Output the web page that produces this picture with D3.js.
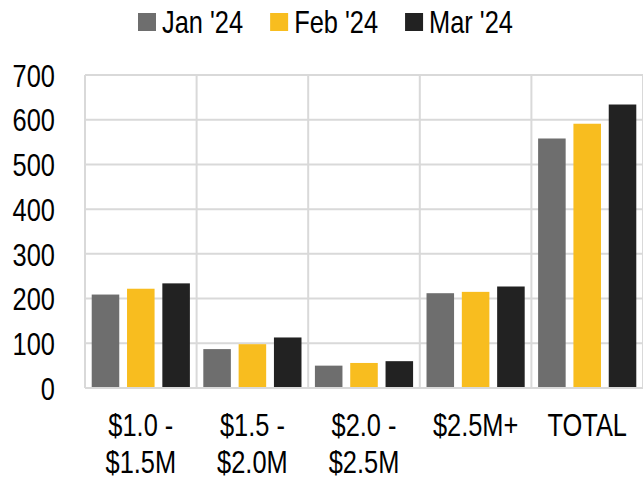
<!DOCTYPE html>
<html>
<head>
<meta charset="utf-8">
<script src="https://cdn.jsdelivr.net/npm/d3@7"></script>
<style>
  html, body { margin: 0; padding: 0; background: #fff; }
  svg { display: block; }
  text { font-family: "Liberation Sans", Arial, sans-serif; fill: #000; }
</style>
</head>
<body>
<svg id="chart" width="643" height="479"></svg>
<script>
const categories = [["$1.0 -", "$1.5M"], ["$1.5 -", "$2.0M"], ["$2.0 -", "$2.5M"], ["$2.5M+"], ["TOTAL"]];
const seriesNames = ["Jan '24", "Feb '24", "Mar '24"];
const seriesColors = ["#6e6e6e", "#f8bd1f", "#222222"];
const jan = [209, 87, 50, 212, 558];
const feb = [222, 98, 56, 215, 591];
const mar = [234, 113, 60, 227, 634];
const yTicks = [0, 100, 200, 300, 400, 500, 600, 700];

const seriesValues = [jan, feb, mar];
const catKeys = categories.map(c => c.join(" "));
const SX = 0.82; // narrow font emulation
const FS = 31;

const svg = d3.select("#chart");
const margin = { left: 85, right: 0, top: 75, bottom: 91 };
const W = 643, H = 479;
const plotH = H - margin.top - margin.bottom;

const x0 = d3.scaleBand().domain(catKeys).range([margin.left, W - margin.right]).paddingInner(0).paddingOuter(0);
const x1 = d3.scaleBand().domain(seriesNames).range([0, x0.bandwidth()]).paddingInner(0.22).paddingOuter(0.19);
const y = d3.scaleLinear().domain([0, 700]).range([margin.top + plotH, margin.top]);

const gridColor = "#d9d9d9";

function narrowText(parent, x, yy, str, anchor) {
  const g = parent.append("g").attr("transform", `translate(${x},${yy}) scale(${SX},1)`);
  return g.append("text").attr("x", 0).attr("y", 0).attr("font-size", FS)
    .attr("text-anchor", anchor || "start").text(str);
}

// horizontal gridlines
svg.append("g").selectAll("line").data(yTicks).join("line")
  .attr("x1", margin.left).attr("x2", W - margin.right)
  .attr("y1", d => y(d)).attr("y2", d => y(d))
  .attr("stroke", gridColor).attr("stroke-width", 2);

// vertical gridlines at category boundaries
const bounds = catKeys.map(k => x0(k)).concat([W - margin.right]);
svg.append("g").selectAll("line").data(bounds).join("line")
  .attr("x1", d => d).attr("x2", d => d)
  .attr("y1", y(700)).attr("y2", y(0))
  .attr("stroke", gridColor).attr("stroke-width", 2);

// y axis labels
const yAxis = d3.axisLeft(y).tickValues(yTicks).tickSize(0).tickPadding(0);
const yg = svg.append("g").attr("transform", `translate(55,0)`).call(yAxis);
yg.select(".domain").remove();
yg.attr("font-family", null).attr("font-size", null);
yg.selectAll("text").attr("font-size", FS).attr("fill", "#000")
  .attr("x", 0).attr("dy", "0.36em")
  .attr("transform", `scale(${SX},1)`);

// bars
const groups = svg.append("g").selectAll("g").data(catKeys).join("g")
  .attr("transform", d => `translate(${x0(d)},0)`);
groups.selectAll("rect").data((d, i) => seriesNames.map((s, j) => ({ s, j, v: seriesValues[j][i] })))
  .join("rect")
  .attr("x", d => x1(d.s))
  .attr("width", x1.bandwidth())
  .attr("y", d => y(d.v))
  .attr("height", d => y(0) - 1 - y(d.v))
  .attr("fill", d => seriesColors[d.j]);

// x labels
const xl = svg.append("g");
categories.forEach((lines, i) => {
  const cx = x0(catKeys[i]) + x0.bandwidth() / 2;
  lines.forEach((ln, k) => {
    narrowText(xl, cx, 436 + k * 37, ln, "middle");
  });
});

// legend
const legend = svg.append("g");
let lx = 138;
seriesNames.forEach((name, i) => {
  legend.append("rect").attr("x", lx).attr("y", 13).attr("width", 18).attr("height", 18).attr("fill", seriesColors[i]);
  const t = narrowText(legend, lx + 24, 33, name, "start");
  const w = t.node().getComputedTextLength() * SX;
  lx = lx + 24 + w + 27;
});
</script>
</body>
</html>
